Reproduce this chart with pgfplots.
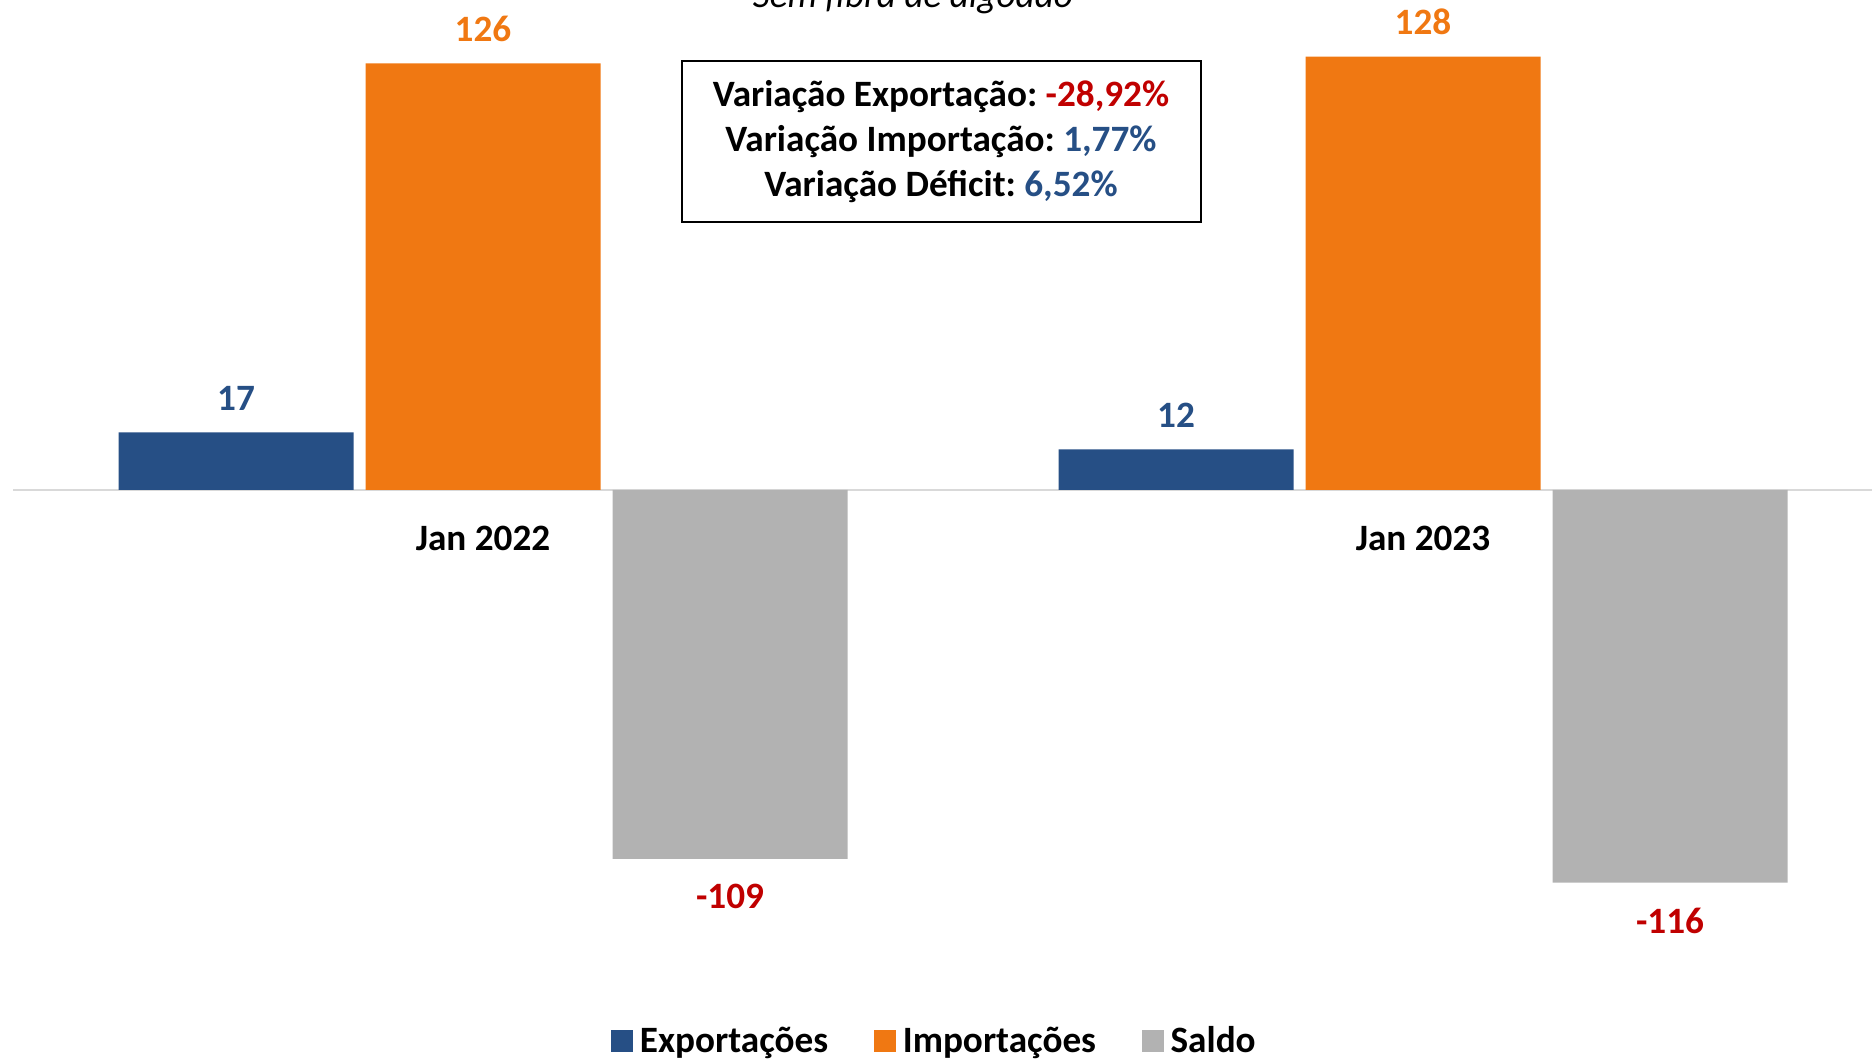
\documentclass[border=0pt]{standalone}
\usepackage{pgfplots}
\pgfplotsset{compat=1.18}
\usepackage{fontspec}
\setmainfont{Carlito}
\frenchspacing
\definecolor{cexp}{HTML}{264F85}
\definecolor{cimp}{HTML}{F07812}
\definecolor{csal}{HTML}{B2B2B2}
\definecolor{cred}{HTML}{C00000}
\newcommand{\bigf}{\fontsize{18.6}{22.7}\selectfont}
\begin{document}
\begin{tikzpicture}
\useasboundingbox (0,0) rectangle (936pt,530pt);
\clip (0,0) rectangle (936pt,530pt);
\begin{axis}[
  at={(6.5pt,0pt)}, anchor=south west,
  scale only axis, width=940pt, height=530pt,
  xmin=-0.5, xmax=1.5, ymin=-168.4, ymax=144.7,
  ybar=6pt, bar width=117.5pt,
  axis x line=middle, axis y line=none,
  x axis line style={draw=black!15, line width=1.2pt, -},
  xtick={0,1}, xticklabels={Jan 2022, Jan 2023}, major tick length=0pt,
  xticklabel style={anchor=north, inner sep=0pt, yshift=-18pt, font=\bigf\bfseries},
  ytick=\empty,
  /pgf/number format/assume math mode=true,
  nodes near coords,
  every node near coord/.append style={font=\bigf\bfseries, inner sep=0pt},
  legend columns=-1,
  legend style={draw=none, fill=none, at={(0.4915,0.018)}, anchor=center,
    font=\bigf\bfseries, inner xsep=0pt,
    nodes={inner xsep=3.5pt},
    /tikz/every even column/.append style={column sep=19.5pt}},
  legend image code/.code={\fill[#1] (0pt,-5.4pt) rectangle (10.8pt,5.4pt);},
]
\addplot[fill=cexp, draw=none, every node near coord/.append style={text=cexp, anchor=south, yshift=10.6pt}] coordinates {(0,17) (1,12)};
\addplot[fill=cimp, draw=none, every node near coord/.append style={text=cimp, anchor=south, yshift=10.6pt}] coordinates {(0,126) (1,128)};
\addplot[fill=csal, draw=none, every node near coord/.append style={text=cred, anchor=north, yshift=-12.6pt}] coordinates {(0,-109) (1,-116)};
\legend{Exportações, Importações, Saldo}
\end{axis}
\node[anchor=base, font=\bigf\itshape] at (456.5pt,526pt) {Sem fibra de algodão};
\node[draw, line width=1pt, minimum width=259.5pt, minimum height=80.5pt, align=center, font=\bigf\bfseries, inner sep=0pt] at (470.5pt,459.25pt)
 {Variação Exportação: \textcolor{cred}{-28,92\%}\\
  Variação Importação: \textcolor{cexp}{1,77\%}\\
  Variação Déficit: \textcolor{cexp}{6,52\%}};
\end{tikzpicture}
\end{document}
